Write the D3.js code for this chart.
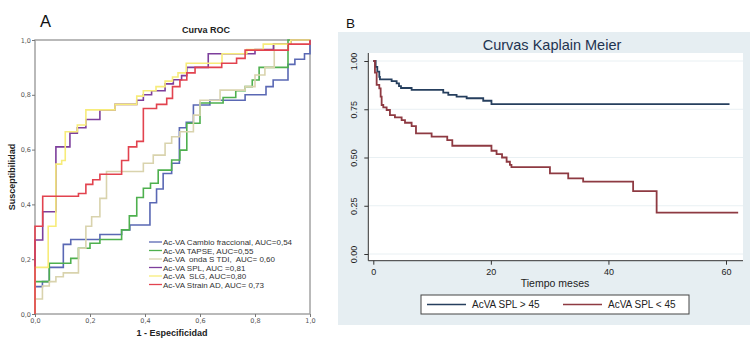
<!DOCTYPE html>
<html lang="es">
<head>
<meta charset="UTF-8">
<title>Curva ROC / Curvas Kaplain Meier</title>
<script src="https://d3js.org/d3.v7.min.js"></script>
<style>
  body { margin: 0; background: #fff; }
  svg { display: block; font-family: "Liberation Sans", Arial, sans-serif; }
  .roc-line { fill: none; stroke-width: 1.6; }
  .km-line { fill: none; stroke-width: 1.8; }
  .keep-space { white-space: pre; }
</style>
</head>
<body>
<script>
// ---- Panel A: ROC curves (points = top of each vertical step) ----
const rocTicks = [0, 0.2, 0.4, 0.6, 0.8, 1.0];
const rocNames = [
  "Ac-VA Cambio fraccional, AUC=0,54",
  "Ac-VA TAPSE, AUC=0,55",
  "Ac-VA  onda S TDI,  AUC= 0,60",
  "Ac-VA SPL, AUC =0,81",
  "Ac-VA  SLG, AUC=0,80",
  "Ac-VA Strain AD, AUC= 0,73"
];
const rocColors = ["#5a68b4", "#4eb04e", "#d9d3ad", "#7d3f9c", "#f7ec7a", "#e2434f"];

const rocCambio = [[0,0],[0,0.10],[0.027,0.118],[0.052,0.17],[0.103,0.254],[0.13,0.272],[0.236,0.29],[0.315,0.307],[0.345,0.325],[0.418,0.406],[0.442,0.456],[0.466,0.513],[0.497,0.55],[0.525,0.68],[0.55,0.70],[0.576,0.763],[0.636,0.78],[0.764,0.80],[0.84,0.83],[0.866,0.854],[0.92,0.911],[0.945,0.93],[0.98,0.95],[1,1]];
const rocTapse = [[0,0],[0,0.118],[0.052,0.185],[0.13,0.203],[0.158,0.24],[0.20,0.258],[0.236,0.272],[0.315,0.307],[0.343,0.358],[0.37,0.425],[0.394,0.459],[0.42,0.477],[0.448,0.525],[0.497,0.562],[0.527,0.598],[0.552,0.696],[0.60,0.77],[0.684,0.79],[0.73,0.815],[0.764,0.83],[0.79,0.854],[0.815,0.90],[0.92,1.0],[1,1]];
const rocOndaS = [[0,0],[0,0.055],[0.027,0.102],[0.052,0.118],[0.076,0.136],[0.103,0.15],[0.158,0.24],[0.185,0.32],[0.206,0.355],[0.236,0.422],[0.26,0.52],[0.394,0.55],[0.43,0.58],[0.473,0.623],[0.497,0.647],[0.527,0.665],[0.576,0.726],[0.60,0.78],[0.673,0.817],[0.764,0.83],[0.80,0.872],[0.836,0.90],[0.87,0.985],[0.93,1.0],[1,1]];
const rocSpl = [[0,0],[0,0.27],[0.028,0.373],[0.076,0.61],[0.127,0.66],[0.154,0.68],[0.185,0.71],[0.236,0.745],[0.291,0.765],[0.37,0.78],[0.394,0.80],[0.424,0.815],[0.473,0.84],[0.503,0.855],[0.533,0.87],[0.552,0.90],[0.63,0.95],[0.80,0.965],[0.867,0.985],[0.93,1.0],[1,1]];
const rocSlg = [[0,0],[0,0.17],[0.048,0.32],[0.076,0.547],[0.097,0.56],[0.11,0.665],[0.154,0.69],[0.185,0.745],[0.291,0.765],[0.37,0.795],[0.394,0.815],[0.44,0.83],[0.473,0.85],[0.50,0.865],[0.52,0.88],[0.55,0.915],[0.68,0.95],[0.77,0.965],[0.83,0.985],[0.93,1.0],[1,1]];
const rocStrain = [[0,0],[0,0.32],[0.028,0.43],[0.158,0.44],[0.185,0.473],[0.21,0.49],[0.236,0.51],[0.315,0.56],[0.34,0.61],[0.37,0.63],[0.394,0.75],[0.442,0.765],[0.479,0.787],[0.50,0.83],[0.527,0.854],[0.552,0.88],[0.582,0.90],[0.679,0.915],[0.733,0.933],[0.764,0.963],[0.921,0.985],[1,1]];
const rocSeries = [rocCambio, rocTapse, rocOndaS, rocSpl, rocSlg, rocStrain];

// ---- Panel B: Kaplan-Meier (time in months, survival) ----
const kmNames = ["AcVA SPL > 45", "AcVA SPL < 45"];
const kmColors = ["#263f5e", "#8e3a42"];
const kmXTicks = [0, 20, 40, 60];
const kmYTicks = [0, 0.25, 0.5, 0.75, 1.0];
const kmHigh = [[0,1],[0.4,0.97],[0.68,0.945],[1.02,0.918],[1.13,0.905],[3.12,0.896],[3.97,0.884],[4.37,0.87],[4.71,0.86],[6.52,0.85],[11.9,0.836],[12.76,0.824],[14.17,0.815],[15.88,0.807],[18.7,0.794],[20.1,0.777],[60.6,0.777]];
const kmLow = [[0,1],[0.28,0.94],[0.57,0.876],[1.02,0.858],[1.25,0.815],[1.42,0.772],[1.7,0.76],[2.27,0.746],[2.83,0.72],[3.68,0.708],[4.82,0.694],[5.39,0.68],[6.52,0.663],[7.26,0.625],[9.92,0.608],[12.58,0.59],[13.44,0.561],[20.1,0.535],[20.97,0.518],[21.9,0.50],[22.68,0.478],[23.24,0.462],[23.5,0.45],[30.05,0.418],[33.16,0.392],[35.7,0.375],[44.2,0.326],[48.2,0.214],[62.07,0.214]];
const kmSeries = [kmHigh, kmLow];

const svg = d3.select("body").append("svg")
  .attr("width", 750).attr("height", 363);

// ================= Panel A =================
const esFormat = d3.formatLocale({decimal: ",", thousands: ".", grouping: [3], currency: ["", "€"]}).format(".1f");
const xRoc = d3.scaleLinear().domain([0, 1]).range([35, 310]);
const yRoc = d3.scaleLinear().domain([0, 1]).range([314, 40]);

svg.append("text").attr("x", 40).attr("y", 27)
  .attr("font-size", 16.5).attr("fill", "#111").text("A");
svg.append("text").attr("x", 206).attr("y", 33).attr("text-anchor", "middle")
  .attr("font-size", 9).attr("font-weight", "bold").attr("fill", "#222").text("Curva ROC");

const gA = svg.append("g");
gA.append("rect").attr("x", xRoc(0)).attr("y", yRoc(1))
  .attr("width", xRoc(1) - xRoc(0)).attr("height", yRoc(0) - yRoc(1))
  .attr("fill", "#fff").attr("stroke", "#a3a3a3").attr("stroke-width", 1.5);

const axA_y = gA.append("g").attr("transform", `translate(${xRoc(0)},0)`)
  .call(d3.axisLeft(yRoc).tickValues(rocTicks).tickFormat(esFormat).tickSize(3).tickPadding(1));
const axA_x = gA.append("g").attr("transform", `translate(0,${yRoc(0)})`)
  .call(d3.axisBottom(xRoc).tickValues(rocTicks).tickFormat(esFormat).tickSize(3).tickPadding(1));
[axA_y, axA_x].forEach(a => {
  a.select(".domain").remove();
  a.selectAll("line").attr("stroke", "#777");
  a.selectAll("text").attr("font-size", 6.5).attr("fill", "#555").attr("font-family", "DejaVu Sans, sans-serif");
});

const rocLine = d3.line().x(d => xRoc(d[0])).y(d => yRoc(d[1])).curve(d3.curveStepAfter);
rocSeries.forEach((s, i) => {
  gA.append("path").datum(s).attr("class", "roc-line")
    .attr("stroke", rocColors[i]).attr("d", rocLine);
});

svg.append("text").attr("transform", "translate(15,177) rotate(-90)")
  .attr("text-anchor", "middle").attr("font-size", 9).attr("font-weight", "bold")
  .attr("fill", "#222").text("Susceptibilidad");
svg.append("text").attr("x", 172).attr("y", 336).attr("text-anchor", "middle")
  .attr("font-size", 9).attr("font-weight", "bold").attr("fill", "#222").text("1 - Especificidad");

const legA = svg.append("g").attr("transform", "translate(149,242)");
rocNames.forEach((n, i) => {
  const row = legA.append("g").attr("transform", `translate(0,${i * 8.5})`);
  row.append("line").attr("x1", 0).attr("x2", 13).attr("stroke", rocColors[i]).attr("stroke-width", 1.3);
  row.append("text").attr("class", "keep-space").attr("x", 14).attr("y", 3)
    .attr("font-size", 8).attr("fill", "#333").text(n);
});

// ================= Panel B =================
svg.append("text").attr("x", 346).attr("y", 28)
  .attr("font-size", 13.5).attr("fill", "#111").text("B");
svg.append("rect").attr("x", 338).attr("y", 32).attr("width", 412).attr("height", 293)
  .attr("fill", "#e6eef2");

const xKm = d3.scaleLinear().domain([0, 60]).range([373.3, 726]);
const yKm = d3.scaleLinear().domain([0, 1]).range([254, 61]);
const plotL = 368.3, plotR = 743, plotT = 53, plotB = 260.7;

svg.append("text").attr("x", 552).attr("y", 50).attr("text-anchor", "middle")
  .attr("font-size", 14.5).attr("fill", "#1e3350").text("Curvas Kaplain Meier");

svg.append("rect").attr("x", plotL).attr("y", plotT)
  .attr("width", plotR - plotL).attr("height", plotB - plotT).attr("fill", "#fff");

svg.append("g").selectAll("line").data(kmYTicks).join("line")
  .attr("x1", plotL).attr("x2", plotR)
  .attr("y1", d => yKm(d)).attr("y2", d => yKm(d))
  .attr("stroke", "#e9f0f3").attr("stroke-width", 1);

const kmLine = d3.line().x(d => xKm(d[0])).y(d => yKm(d[1])).curve(d3.curveStepAfter);
kmSeries.forEach((s, i) => {
  svg.append("path").datum(s).attr("class", "km-line")
    .attr("stroke", kmColors[i]).attr("d", kmLine);
});

// axes
const axB_y = svg.append("g").attr("transform", `translate(${plotL},0)`)
  .call(d3.axisLeft(yKm).tickValues(kmYTicks).tickFormat(d3.format(".2f")).tickSize(4).tickPadding(3));
axB_y.select(".domain").remove();
axB_y.append("line").attr("x1", 0).attr("x2", 0).attr("y1", plotT).attr("y2", plotB).attr("stroke", "#333");
// vertical tick labels reading bottom to top
axB_y.selectAll(".tick text")
  .attr("x", null).attr("dy", null)
  .attr("transform", "translate(-11,0) rotate(-90)")
  .attr("text-anchor", "middle");
const axB_x = svg.append("g").attr("transform", `translate(0,${plotB})`)
  .call(d3.axisBottom(xKm).tickValues(kmXTicks).tickFormat(d3.format("d")).tickSize(4).tickPadding(4));
axB_x.select(".domain").remove();
axB_x.append("line").attr("x1", plotL).attr("x2", plotR).attr("stroke", "#333");
[axB_y, axB_x].forEach(a => {
  a.selectAll(".tick line").attr("stroke", "#333");
  a.selectAll("text").attr("font-size", 9).attr("fill", "#222").attr("font-family", "Liberation Sans, Arial, sans-serif");
});

svg.append("text").attr("x", 555).attr("y", 287).attr("text-anchor", "middle")
  .attr("font-size", 10.5).attr("fill", "#222").text("Tiempo meses");

// legend box
const legB = svg.append("g").attr("transform", "translate(421,295)");
legB.append("rect").attr("width", 268).attr("height", 19)
  .attr("fill", "#fff").attr("stroke", "#444").attr("stroke-width", 1);
kmNames.forEach((n, i) => {
  const gx = 6 + i * 136;
  legB.append("line").attr("x1", gx).attr("x2", gx + 39).attr("y1", 9.5).attr("y2", 9.5)
    .attr("stroke", kmColors[i]).attr("stroke-width", 1.5);
  legB.append("text").attr("x", gx + 45).attr("y", 13.3)
    .attr("font-size", 10).attr("fill", "#222").text(n);
});
</script>
</body>
</html>
